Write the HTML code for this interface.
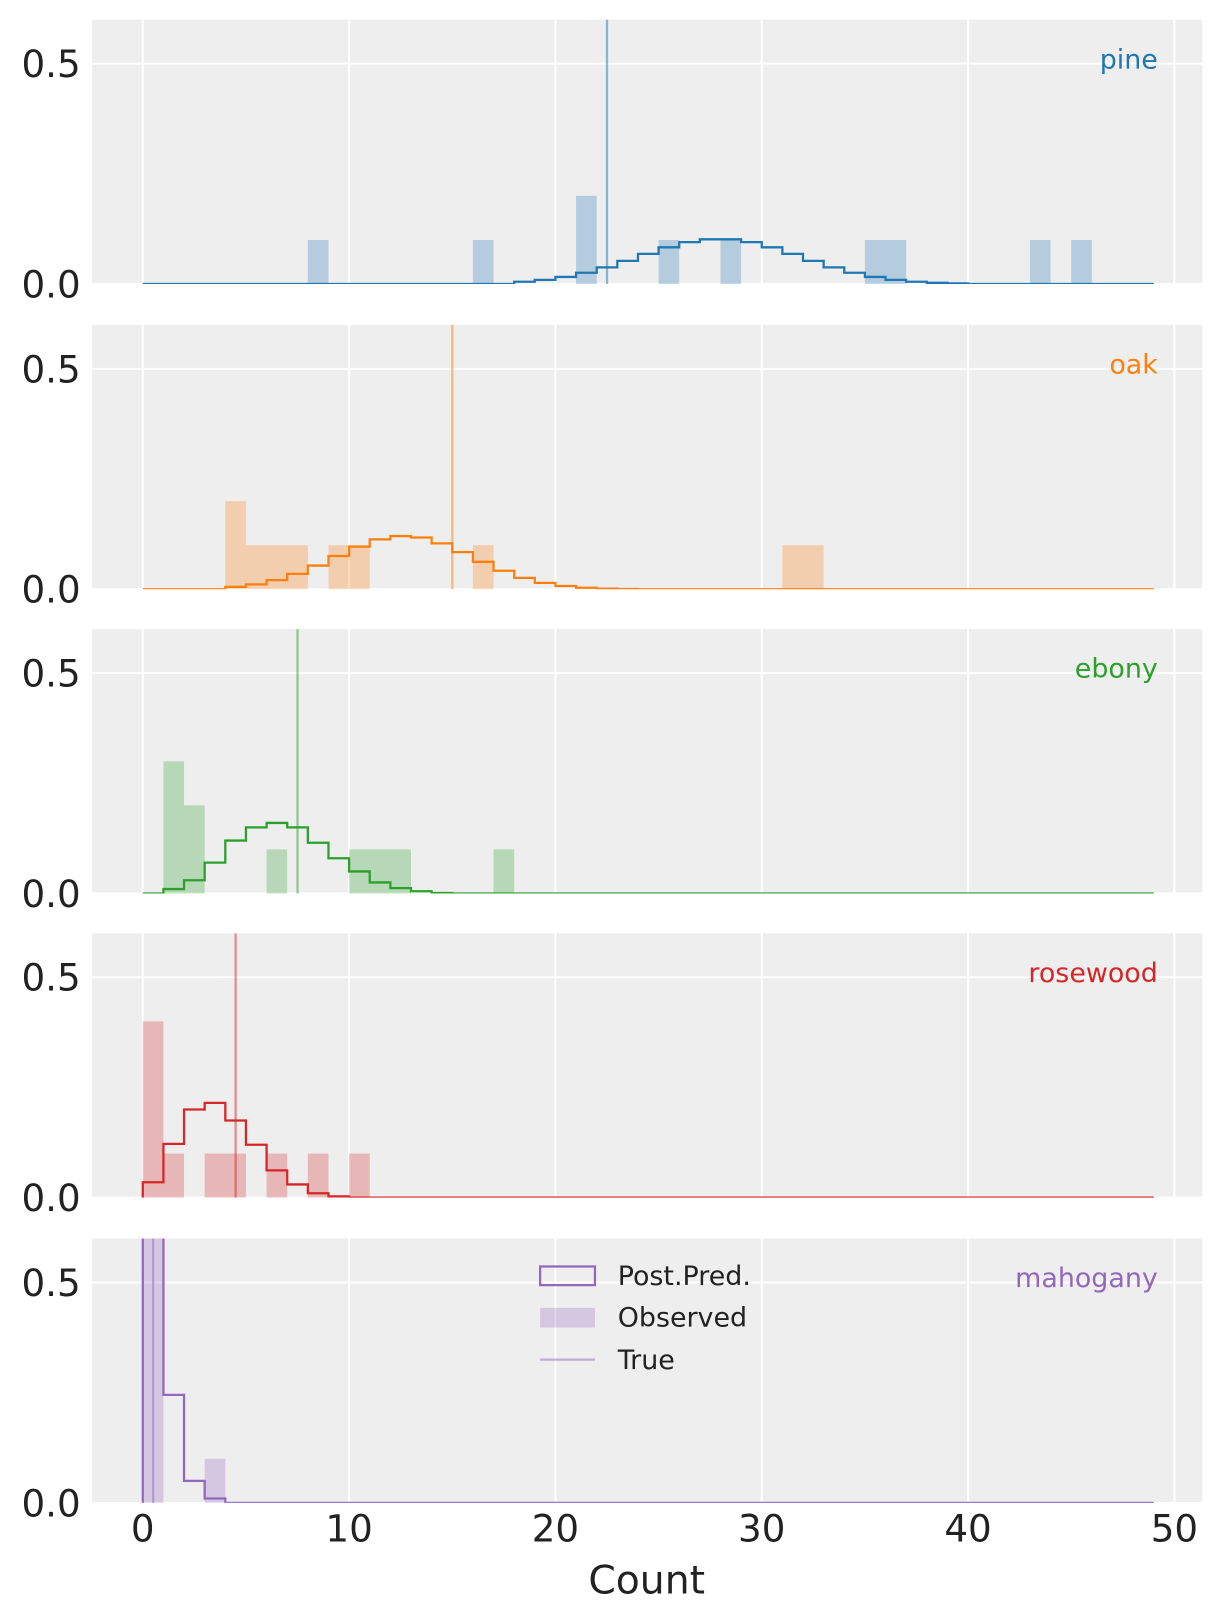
<!DOCTYPE html>
<html><head><meta charset="utf-8"><style>
html,body{margin:0;padding:0;background:#fff}
svg{display:block}
</style></head><body>
<svg xmlns="http://www.w3.org/2000/svg" width="1223" height="1623" font-family="'DejaVu Sans','Liberation Sans',sans-serif"><g id="s" transform="scale(1.0347)"></g></svg>
<script>
const s=document.getElementById('s');
let h='';
const X=v=>138+v*19.94;
const tops=[19,314,608,902,1197];
const PH=255.5;
function gauss(m,sd,a,b){const o=[];for(let i=0;i<49;i++){const v=(i+0.5>=a&&i+0.5<=b)?Math.exp(-((i+0.5-m)**2)/(2*sd*sd))/(sd*2.5066):0;o.push(v<0.0005?0:v);}return o;}
function arr(m){const o=new Array(49).fill(0);for(const k in m)o[k]=m[k];return o;}
const P=[
 {name:'pine',c:'#1f77b4',t:22.5,obs:[[8,9,.1],[16,17,.1],[21,22,.2],[25,26,.1],[28,29,.1],[35,37,.1],[43,44,.1],[45,46,.1]],pred:gauss(28,3.9,18,40)},
 {name:'oak',c:'#ff7f0e',t:15,obs:[[4,5,.2],[5,8,.1],[9,11,.1],[16,17,.1],[31,33,.1]],pred:gauss(12.7,3.3,4,25)},
 {name:'ebony',c:'#2ca02c',t:7.5,obs:[[1,2,.3],[2,3,.2],[6,7,.1],[10,13,.1],[17,18,.1]],pred:arr({1:.01,2:.03,3:.07,4:.12,5:.15,6:.16,7:.15,8:.115,9:.08,10:.05,11:.025,12:.012,13:.005,14:.001})},
 {name:'rosewood',c:'#d62728',t:4.5,obs:[[0,1,.4],[1,2,.1],[3,5,.1],[6,7,.1],[8,9,.1],[10,11,.1]],pred:arr({0:.035,1:.122,2:.2,3:.215,4:.175,5:.12,6:.062,7:.03,8:.01,9:.003})},
 {name:'mahogany',c:'#9467bd',t:0.5,obs:[[0,1,.8],[3,4,.1]],pred:arr({0:.9,1:.245,2:.05,3:.01})}
];
P.forEach((p,k)=>{
 const top=tops[k],z=top+PH,Y=v=>z-v*426;
 h+=`<clipPath id="c${k}"><rect x="89" y="${top}" width="1073" height="${PH}"/></clipPath>`;
 h+=`<rect x="89" y="${top}" width="1073" height="${PH}" fill="#eeeeee"/>`;
 for(let t=0;t<=50;t+=10)h+=`<line x1="${X(t)}" x2="${X(t)}" y1="${top}" y2="${z}" stroke="#fff" stroke-width="2"/>`;
 [0,0.5].forEach(v=>h+=`<line x1="89" x2="1162" y1="${Y(v)}" y2="${Y(v)}" stroke="#fff" stroke-width="2"/>`);
 h+=`<g clip-path="url(#c${k})">`;
 p.obs.forEach(o=>h+=`<rect x="${X(o[0])}" y="${Y(o[2])}" width="${X(o[1])-X(o[0])}" height="${o[2]*426}" fill="${p.c}" fill-opacity="0.28"/>`);
 let d=`M${X(0)},${Y(0)}`;
 p.pred.forEach((v,i)=>{d+=` L${X(i)},${Y(v)} L${X(i+1)},${Y(v)}`;});
 d+=` L${X(49)},${Y(0)}`;
 h+=`<path d="${d}" fill="none" stroke="${p.c}" stroke-width="2.2"/>`;
 h+=`<line x1="${X(p.t)}" x2="${X(p.t)}" y1="${top}" y2="${z}" stroke="${p.c}" stroke-opacity="0.5" stroke-width="2.2"/>`;
 h+=`</g>`;
 h+=`<text x="1119" y="${top+47}" text-anchor="end" font-size="26" fill="${p.c}">${p.name}</text>`;
 h+=`<text x="78" y="${Y(0.5)+13}" text-anchor="end" font-size="36" fill="#222">0.5</text>`;
 h+=`<text x="78" y="${Y(0)+13}" text-anchor="end" font-size="36" fill="#222">0.0</text>`;
});
for(let t=0;t<=50;t+=10)h+=`<text x="${X(t)}" y="1490" text-anchor="middle" font-size="36" fill="#222">${t}</text>`;
h+=`<text x="625" y="1540" text-anchor="middle" font-size="38" fill="#222">Count</text>`;
h+=`<rect x="522" y="1224" width="53" height="18" fill="none" stroke="#9467bd" stroke-width="2.2"/>`;
h+=`<rect x="522" y="1264" width="53" height="19" fill="#9467bd" fill-opacity="0.28"/>`;
h+=`<line x1="522" x2="575" y1="1314" y2="1314" stroke="#9467bd" stroke-opacity="0.5" stroke-width="2.2"/>`;
[['Post.Pred.',1242],['Observed',1282],['True',1323]].forEach(a=>h+=`<text x="597" y="${a[1]}" font-size="26" fill="#222">${a[0]}</text>`);
s.innerHTML=h;
</script>
</body></html>
